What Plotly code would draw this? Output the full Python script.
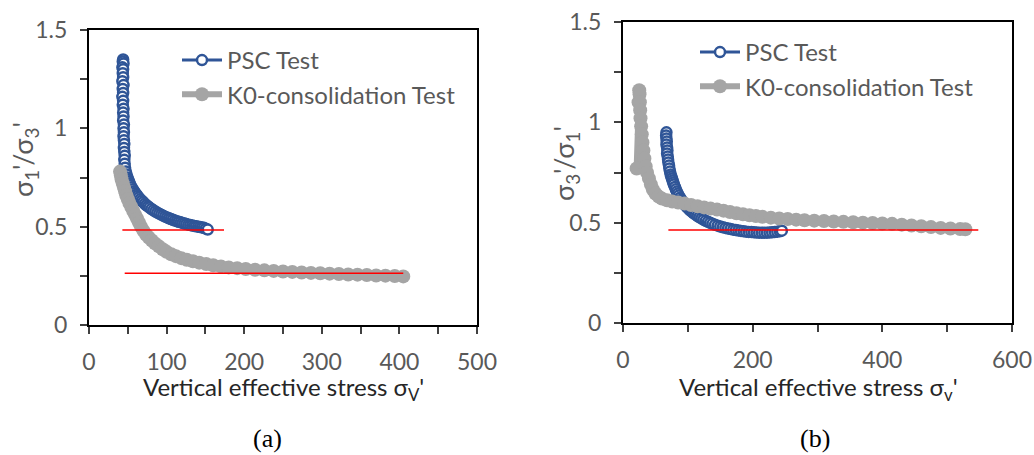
import plotly.graph_objects as go

# ---------------- data ----------------
# (a) sigma1'/sigma3' vs vertical effective stress
a_psc_x = [44, 43.5, 44.5, 43, 44, 43.5, 44, 43, 44.5, 43.5, 44, 43, 44, 43.5, 44.5, 44, 44.5, 44, 45, 44.5,
           45, 44.5, 45, 45.5, 45, 45.5, 46, 45.5, 46, 46.5,
           47.5, 48.5, 49.5, 50.5, 51.5, 52.5, 53.5, 55, 56.5, 58, 59.5, 61, 62.5, 64, 66, 68, 70, 72, 74,
           76, 78, 80.5, 83, 85.5, 88, 90.5, 93, 95.5, 98, 100.5, 103, 105.5, 108, 110.5, 113, 115.5, 118,
           120.5, 123, 125.5, 128, 130.5, 133, 135.5, 138, 140.5, 143, 145.5, 148, 150.5, 153]
a_psc_y = [1.35, 1.34, 1.33, 1.31, 1.30, 1.28, 1.26, 1.24, 1.22, 1.20, 1.18, 1.16, 1.14, 1.12, 1.10, 1.08, 1.06,
           1.04, 1.02, 1.00, 0.98, 0.96, 0.94, 0.92, 0.90, 0.88, 0.86, 0.84, 0.82, 0.80,
           0.78, 0.765, 0.75, 0.74, 0.73, 0.72, 0.71, 0.70, 0.69, 0.68, 0.672, 0.664, 0.656, 0.648, 0.64,
           0.632, 0.624, 0.616, 0.609, 0.603, 0.597, 0.59, 0.583, 0.577, 0.571, 0.566, 0.561, 0.556, 0.551,
           0.547, 0.543, 0.539, 0.535, 0.531, 0.528, 0.525, 0.522, 0.519, 0.516, 0.513, 0.51, 0.508, 0.506,
           0.504, 0.502, 0.50, 0.498, 0.496, 0.494, 0.49, 0.485]

a_k0_x = [40, 41, 42, 43.5, 45, 46.5, 48, 50, 52, 54.5, 57, 59.5, 62, 64.5, 67, 70, 73.5, 77, 81, 85, 90, 95,
          100, 106, 112, 119, 126, 134, 142, 151, 160, 170, 180, 191, 202, 214, 226, 238, 250, 262, 274,
          286, 298, 310, 322, 334, 346, 358, 370, 382, 394, 405]
a_k0_y = [0.78, 0.76, 0.74, 0.72, 0.70, 0.68, 0.66, 0.64, 0.62, 0.60, 0.58, 0.56, 0.54, 0.52, 0.50, 0.48,
          0.46, 0.445, 0.43, 0.415, 0.40, 0.385, 0.372, 0.36, 0.35, 0.34, 0.332, 0.324, 0.317, 0.31, 0.304,
          0.298, 0.293, 0.289, 0.285, 0.281, 0.278, 0.275, 0.272, 0.27, 0.267, 0.265, 0.263, 0.261, 0.259,
          0.257, 0.256, 0.254, 0.252, 0.251, 0.249, 0.247]

a_ref1_x = [43, 174]
a_ref1_y = [0.483, 0.483]
a_ref2_x = [46, 405]
a_ref2_y = [0.263, 0.263]

# (b) sigma3'/sigma1' vs vertical effective stress
b_psc_x = [67, 66.5, 67, 67.5, 67, 68, 68.5, 68, 69, 69.5, 70, 71, 71.5, 72.5, 73.5,
           74.5, 75.5, 76.5, 77.5, 78.5, 80, 81.5, 83, 84.5, 86, 88, 90, 92, 94, 96, 98.5, 101, 103.5, 106,
           109, 112, 115, 118, 121, 124, 127.5, 131, 134.5, 138, 142, 146, 150, 154, 158, 162, 166, 170,
           174, 178, 182, 186, 190, 194, 198, 202, 206, 210, 214, 218, 222, 226, 230, 234, 238, 242, 245]
b_psc_y = [0.95, 0.935, 0.92, 0.905, 0.89, 0.875, 0.86, 0.845, 0.83, 0.815, 0.80, 0.785, 0.77, 0.755, 0.74,
           0.73, 0.72, 0.71, 0.70, 0.69, 0.678, 0.666, 0.655, 0.645, 0.635, 0.624, 0.614, 0.604, 0.595,
           0.587, 0.578, 0.57, 0.562, 0.555, 0.547, 0.54, 0.533, 0.527, 0.521, 0.515, 0.509, 0.504, 0.499,
           0.494, 0.489, 0.485, 0.481, 0.477, 0.474, 0.471, 0.468, 0.465, 0.463, 0.461, 0.459, 0.457, 0.455,
           0.454, 0.453, 0.452, 0.451, 0.45, 0.45, 0.45, 0.45, 0.451, 0.452, 0.453, 0.455, 0.457, 0.46]

b_k0_x = [21, 24, 25, 25.5, 26, 26.5, 27, 28, 29, 30, 31.5, 33, 35, 37, 40, 43, 46, 50, 55, 60, 68, 76, 85,
          95, 105, 115, 125, 135, 145, 155, 165, 175, 185, 195, 205, 215, 228, 241, 254, 267, 280, 295, 310,
          325, 340, 355, 370, 385, 400, 415, 430, 445, 460, 475, 490, 505, 520, 528]
b_k0_y = [0.77, 1.10, 1.16, 1.14, 1.10, 1.06, 1.02, 0.98, 0.94, 0.90, 0.86, 0.82, 0.78, 0.75, 0.72, 0.69,
          0.665, 0.645, 0.63, 0.62, 0.612, 0.605, 0.60, 0.595, 0.588, 0.582, 0.576, 0.57, 0.565, 0.56, 0.553,
          0.547, 0.542, 0.537, 0.533, 0.529, 0.525, 0.521, 0.518, 0.515, 0.512, 0.51, 0.508, 0.506, 0.504,
          0.502, 0.50, 0.498, 0.496, 0.494, 0.49, 0.486, 0.482, 0.478, 0.474, 0.471, 0.468, 0.467]

b_ref_x = [70, 548]
b_ref_y = [0.463, 0.463]

# tick values (labelled majors and unlabelled minors)
y_tickvals = [0, 0.5, 1.0, 1.5]
y_ticktext = ["0", "0.5", "1", "1.5"]
y_minor_vals = [0.25, 0.75, 1.25]
a_x_tickvals = [0, 100, 200, 300, 400, 500]
a_x_ticktext = ["0", "100", "200", "300", "400", "500"]
a_x_minor_vals = [50, 150, 250, 350, 450]
b_x_tickvals = [0, 200, 400, 600]
b_x_ticktext = ["0", "200", "400", "600"]
b_x_minor_vals = [100, 300, 500]

psc_name = "PSC Test"
k0_name = "K0-consolidation Test"

# ---------------- styles ----------------
BLUE = "#2F5597"
GRAY = "#A5A5A5"
RED = "#FF0000"
TXT = "#595959"
FONT = "Lato"

W, H = 1034, 455


def px_x(p):
    return p / W


def px_y(p):
    return 1 - p / H


fig = go.Figure()


def add_panel(xa, ya, psc_x, psc_y, k0_x, k0_y, legend):
    fig.add_trace(go.Scatter(
        x=psc_x, y=psc_y, mode="lines+markers", name=psc_name,
        line=dict(color=BLUE, width=3),
        marker=dict(symbol="circle", size=10, color="white", line=dict(color=BLUE, width=2.5)),
        xaxis=xa, yaxis=ya, legend=legend, legendrank=1))
    fig.add_trace(go.Scatter(
        x=k0_x, y=k0_y, mode="lines+markers", name=k0_name,
        line=dict(color=GRAY, width=6),
        marker=dict(symbol="circle", size=14, color=GRAY),
        xaxis=xa, yaxis=ya, legend=legend, legendrank=2))


add_panel("x", "y", a_psc_x, a_psc_y, a_k0_x, a_k0_y, "legend")
add_panel("x2", "y2", b_psc_x, b_psc_y, b_k0_x, b_k0_y, "legend2")

for rx, ry, xa, ya in [(a_ref1_x, a_ref1_y, "x", "y"), (a_ref2_x, a_ref2_y, "x", "y"),
                       (b_ref_x, b_ref_y, "x2", "y2")]:
    fig.add_trace(go.Scatter(x=rx, y=ry, mode="lines", line=dict(color=RED, width=1.5),
                             showlegend=False, xaxis=xa, yaxis=ya, hoverinfo="skip"))

axis_common = dict(showline=True, linecolor="black", linewidth=2, mirror=True,
                   ticks="outside", ticklen=7, tickwidth=1.5, tickcolor="#404040",
                   showgrid=False, zeroline=False, automargin=False,
                   tickfont=dict(family=FONT, size=23, color=TXT))


def minor(vals):
    return dict(tickmode="array", tickvals=vals, ticks="outside", ticklen=7, tickwidth=1.5,
                tickcolor="#404040", showgrid=False)


fig.update_layout(
    width=W, height=H,
    margin=dict(l=0, r=0, t=0, b=0, pad=0, autoexpand=False),
    paper_bgcolor="white", plot_bgcolor="white",
    font=dict(family=FONT, color=TXT),
    xaxis=dict(domain=[px_x(89), px_x(477)], range=[0, 500], anchor="y",
               tickmode="array", tickvals=a_x_tickvals, ticktext=a_x_ticktext,
               minor=minor(a_x_minor_vals), ticklabelstandoff=8, **axis_common),
    yaxis=dict(domain=[px_y(325), px_y(30)], range=[0, 1.5], anchor="x",
               tickmode="array", tickvals=y_tickvals, ticktext=y_ticktext,
               minor=minor(y_minor_vals), ticklabelstandoff=8, **axis_common),
    xaxis2=dict(domain=[px_x(623), px_x(1012)], range=[0, 600], anchor="y2",
                tickmode="array", tickvals=b_x_tickvals, ticktext=b_x_ticktext,
                minor=minor(b_x_minor_vals), ticklabelstandoff=8, **axis_common),
    yaxis2=dict(domain=[px_y(323), px_y(22)], range=[0, 1.5], anchor="x2",
                tickmode="array", tickvals=y_tickvals, ticktext=y_ticktext,
                minor=minor(y_minor_vals), ticklabelstandoff=8, **axis_common),
    legend=dict(x=px_x(177), y=px_y(38), xanchor="left", yanchor="top",
                bgcolor="rgba(0,0,0,0)", font=dict(family=FONT, size=24, color=TXT),
                itemwidth=40, tracegroupgap=0),
    legend2=dict(x=px_x(695), y=px_y(30), xanchor="left", yanchor="top",
                 bgcolor="rgba(0,0,0,0)", font=dict(family=FONT, size=24, color=TXT),
                 itemwidth=40, tracegroupgap=0),
    showlegend=True,
)

ann = [
    dict(text="σ<sub>1</sub>'/σ<sub>3</sub>'", x=px_x(24), y=px_y(160), textangle=-90,
         yanchor="middle", font=dict(family=FONT, size=27, color=TXT)),
    dict(text="σ<sub>3</sub>'/σ<sub>1</sub>'", x=px_x(565), y=px_y(164), textangle=-90,
         yanchor="middle", font=dict(family=FONT, size=27, color=TXT)),
    dict(text="Vertical effective stress σ<sub>V</sub>'", x=px_x(283), y=px_y(370),
         yanchor="top", font=dict(family=FONT, size=24, color="#262626")),
    dict(text="Vertical effective stress σ<sub>v</sub>'", x=px_x(818), y=px_y(370),
         yanchor="top", font=dict(family=FONT, size=24, color="#262626")),
    dict(text="(a)", x=px_x(267), y=0, yanchor="bottom",
         font=dict(family="Liberation Serif", size=26, color="black")),
    dict(text="(b)", x=px_x(815), y=0, yanchor="bottom",
         font=dict(family="Liberation Serif", size=26, color="black")),
]
for a in ann:
    a.update(xref="paper", yref="paper", showarrow=False, xanchor="center")
fig.update_layout(annotations=ann)

fig.write_html("out.html")
